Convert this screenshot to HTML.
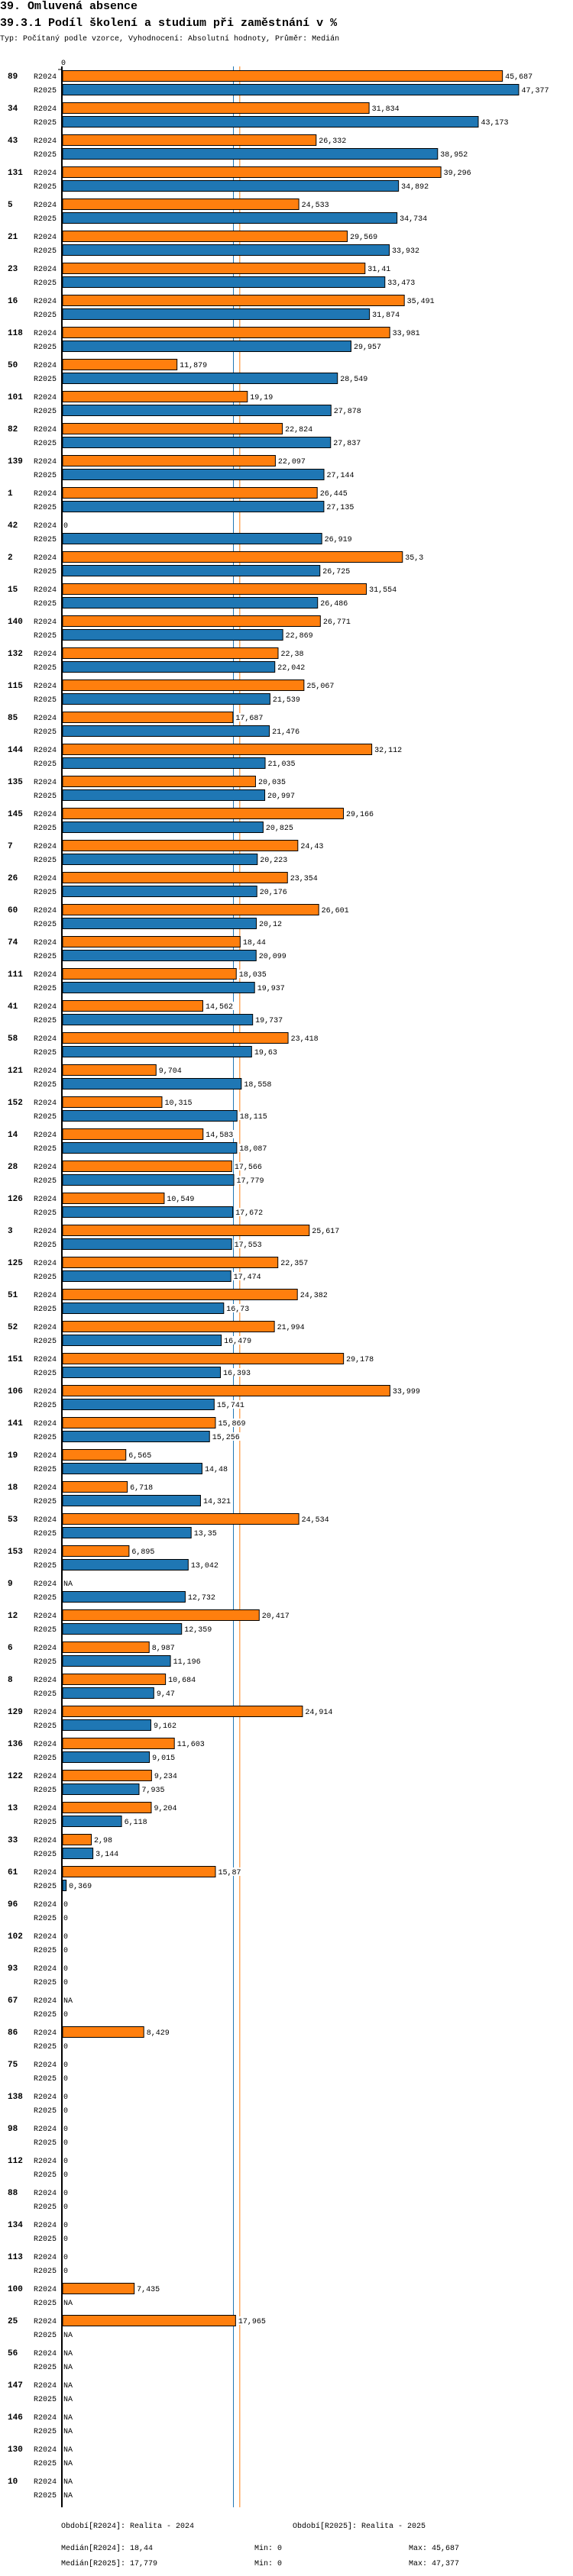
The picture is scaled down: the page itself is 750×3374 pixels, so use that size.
<!DOCTYPE html>
<html><head><meta charset="utf-8">
<style>
html,body{margin:0;padding:0;background:#fff;}
body{width:750px;height:3374px;overflow:hidden;position:relative;font-family:"Liberation Mono","DejaVu Sans Mono",monospace;}
.t1{position:absolute;left:0;font-weight:bold;font-size:15px;white-space:nowrap;}
.t3{position:absolute;left:0;font-size:10px;white-space:nowrap;}
svg{position:absolute;left:0;top:0;}
</style></head>
<body>
<div class="t1" style="top:0px">39. Omluvená absence</div>
<div class="t1" style="top:22px">39.3.1 Podíl školení a studium při zaměstnání v %</div>
<div class="t3" style="top:46px">Typ: Počítaný podle vzorce, Vyhodnocení: Absolutní hodnoty, Průměr: Medián</div>
<svg id="chart" width="750" height="3374"></svg>
<script>
const categories=["89","34","43","131","5","21","23","16","118","50","101","82","139","1","42","2","15","140","132","115","85","144","135","145","7","26","60","74","111","41","58","121","152","14","28","126","3","125","51","52","151","106","141","19","18","53","153","9","12","6","8","129","136","122","13","33","61","96","102","93","67","86","75","138","98","112","88","134","113","100","25","56","147","146","130","10"];
const values2024=[45.687,31.834,26.332,39.296,24.533,29.569,31.41,35.491,33.981,11.879,19.19,22.824,22.097,26.445,0,35.3,31.554,26.771,22.38,25.067,17.687,32.112,20.035,29.166,24.43,23.354,26.601,18.44,18.035,14.562,23.418,9.704,10.315,14.583,17.566,10.549,25.617,22.357,24.382,21.994,29.178,33.999,15.869,6.565,6.718,24.534,6.895,null,20.417,8.987,10.684,24.914,11.603,9.234,9.204,2.98,15.87,0,0,0,null,8.429,0,0,0,0,0,0,0,7.435,17.965,null,null,null,null,null];
const values2025=[47.377,43.173,38.952,34.892,34.734,33.932,33.473,31.874,29.957,28.549,27.878,27.837,27.144,27.135,26.919,26.725,26.486,22.869,22.042,21.539,21.476,21.035,20.997,20.825,20.223,20.176,20.12,20.099,19.937,19.737,19.63,18.558,18.115,18.087,17.779,17.672,17.553,17.474,16.73,16.479,16.393,15.741,15.256,14.48,14.321,13.35,13.042,12.732,12.359,11.196,9.47,9.162,9.015,7.935,6.118,3.144,0.369,0,0,0,0,0,0,0,0,0,0,0,0,null,null,null,null,null,null,null];
const seriesNames=["R2024","R2025"];
const medians=[18.44,17.779];
const mins=[0,0];
const maxs=[45.687,47.377];

const svg=document.getElementById('chart');
const NS='http://www.w3.org/2000/svg';
const X0=81.5, PX=12.6, TOP=92, PITCH=42;
const xs=v=>X0+v*PX;
const colors=["#ff7f0e","#1f77b4"];
function mk(tag,attrs){const e=document.createElementNS(NS,tag);for(const k in attrs)e.setAttribute(k,attrs[k]);svg.appendChild(e);return e;}
function fmt(v){return v===null?"NA":String(v).replace('.',',');}
const bottom=TOP+categories.length*PITCH;

// median lines (behind)
[1,0].forEach(i=>{
  const l=mk('line',{x1:xs(medians[i]),x2:xs(medians[i]),y1:87,y2:bottom,stroke:colors[i],'stroke-width':1});
  
  
});
// axis
const ax=mk('line',{x1:81,x2:81,y1:87,y2:bottom,stroke:'#000','stroke-width':2});


const tk=mk('line',{x1:76,x2:82,y1:91,y2:91,stroke:'#000','stroke-width':1});


const t0=mk('text',{x:80,y:85,'font-size':10,'font-family':'Liberation Mono, monospace'});
t0.textContent='0';



categories.forEach((c,gi)=>{
  const gy=TOP+gi*PITCH;
  const gl=mk('text',{x:10,y:gy+11,'font-size':11,'font-weight':'bold','font-family':'Liberation Mono, monospace'});
  gl.textContent=c;
  
  
  [values2024,values2025].forEach((arr,si)=>{
    const y=gy+si*18;
    const sl=mk('text',{x:44,y:y+11,'font-size':10,'font-family':'Liberation Mono, monospace'});
    sl.textContent=seriesNames[si];
    
    
    const v=arr[gi];
    let end=83;
    if(v!==null&&v>0){
      const w=xs(v)-X0;
      const r=mk('rect',{x:X0+0.5,y:y+0.5,width:w,height:14,fill:colors[si],stroke:'#000','stroke-width':1});
      
      
      end=xs(v)+4;
    }
    const txt=fmt(v);
    const bg=mk('rect',{x:end-1,y:y+2,width:txt.length*6+2,height:11,fill:'#fff'});
    
    
    const vl=mk('text',{x:end,y:y+11,'font-size':10,'font-family':'Liberation Mono, monospace'});
    vl.textContent=txt;
    
    
  });
});

// footer
function ft(x,y,s,name){const e=mk('text',{x:x,y:y,'font-size':10,'font-family':'Liberation Mono, monospace'});e.textContent=s;}
ft(80,3311,'Období['+seriesNames[0]+']: Realita - 2024','legend-period-2024');
ft(383,3311,'Období['+seriesNames[1]+']: Realita - 2025','legend-period-2025');
ft(80,3340,'Medián['+seriesNames[0]+']: '+fmt(medians[0]),'median-2024');
ft(333,3340,'Min: '+fmt(mins[0]),'min-2024');
ft(535,3340,'Max: '+fmt(maxs[0]),'max-2024');
ft(80,3360,'Medián['+seriesNames[1]+']: '+fmt(medians[1]),'median-2025');
ft(333,3360,'Min: '+fmt(mins[1]),'min-2025');
ft(535,3360,'Max: '+fmt(maxs[1]),'max-2025');
</script>
</body></html>
